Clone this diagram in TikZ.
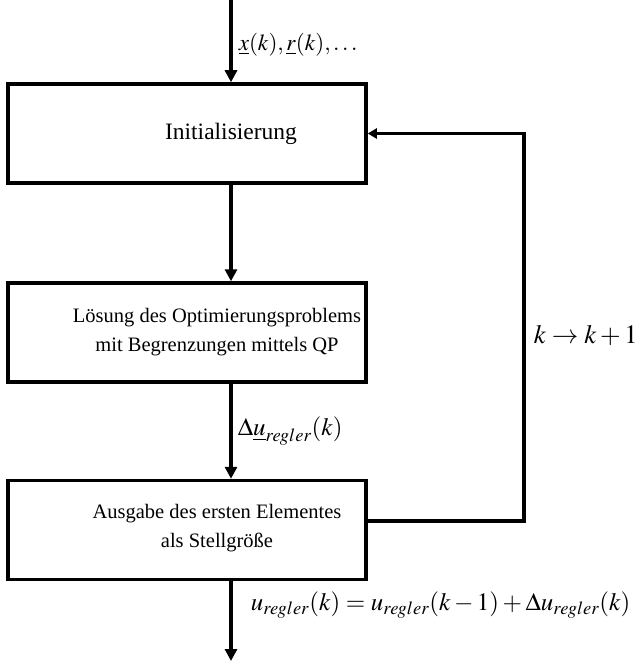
\documentclass[tikz,border=0pt]{standalone}
\usepackage{mathptmx}
\usepackage{fontspec}
\setmainfont{Liberation Serif}
\usetikzlibrary{arrows.meta}
\begin{document}
\begin{tikzpicture}[x=1pt,y=-1pt,
  block/.style={draw, line width=3.5pt, minimum width=358pt, minimum height=99pt, inner sep=0pt},
  blocktext/.style={align=center, inner sep=0pt, font=\fontsize{20.5}{29}\selectfont},
  flow/.style={line width=3.5pt, -{Triangle[length=12pt,width=12pt]}},
  back/.style={line width=3.5pt, -{Triangle[length=9pt,width=10pt]}},
  lbl/.style={anchor=west, inner sep=0pt, font=\fontsize{25}{30}\selectfont}]
  \useasboundingbox (0,0) rectangle (643,661);

  % processing steps
  \node[block] (init) at (187,133.5) {};
  \node[block] (qp)   at (187,332.5) {};
  \node[block] (out)  at (187,530)   {};
  \node[blocktext, font=\fontsize{23.5}{29}\selectfont, xshift=44pt] (initT) at (init.center) {Initialisierung};
  \node[blocktext, xshift=30pt] (qpT) at (qp.center) {Lösung des Optimierungsproblems\\mit Begrenzungen mittels QP};
  \node[blocktext, xshift=30pt, yshift=2pt] (outT) at (out.center) {Ausgabe des ersten Elementes\\als Stellgröße};

  % free ends of the main flow and corner of the loop
  \coordinate (src)  at (231,0);
  \coordinate (sink) at (231,661);
  \coordinate (loop) at (524,521);

  % main flow
  \draw[flow] (src) -- (src |- init.north)
    node[lbl, pos=0.54, xshift=6pt, font=\fontsize{23}{28}\selectfont] (lin) {$\underline{x}(k),\underline{r}(k),\ldots$};
  \draw[flow] (src |- init.south) -- (src |- qp.north);
  \draw[flow] (src |- qp.south) -- (src |- out.north)
    node[lbl, midway, xshift=5pt] (ldu) {$\Delta\underline{u}_{regler}(k)$};
  \draw[flow] (src |- out.south) -- (sink)
    node[lbl, pos=0.3, xshift=18pt] (lout) {$u_{regler}(k)=u_{regler}(k-1)+\Delta u_{regler}(k)$};

  % feedback loop to the next sampling step
  \draw[back] (out.east |- loop) -- (loop) |- (init.east)
    node[lbl, pos=0.24, xshift=8pt, font=\fontsize{26.5}{30}\selectfont] (lk) {$k\rightarrow k+1$};
\end{tikzpicture}
\end{document}
